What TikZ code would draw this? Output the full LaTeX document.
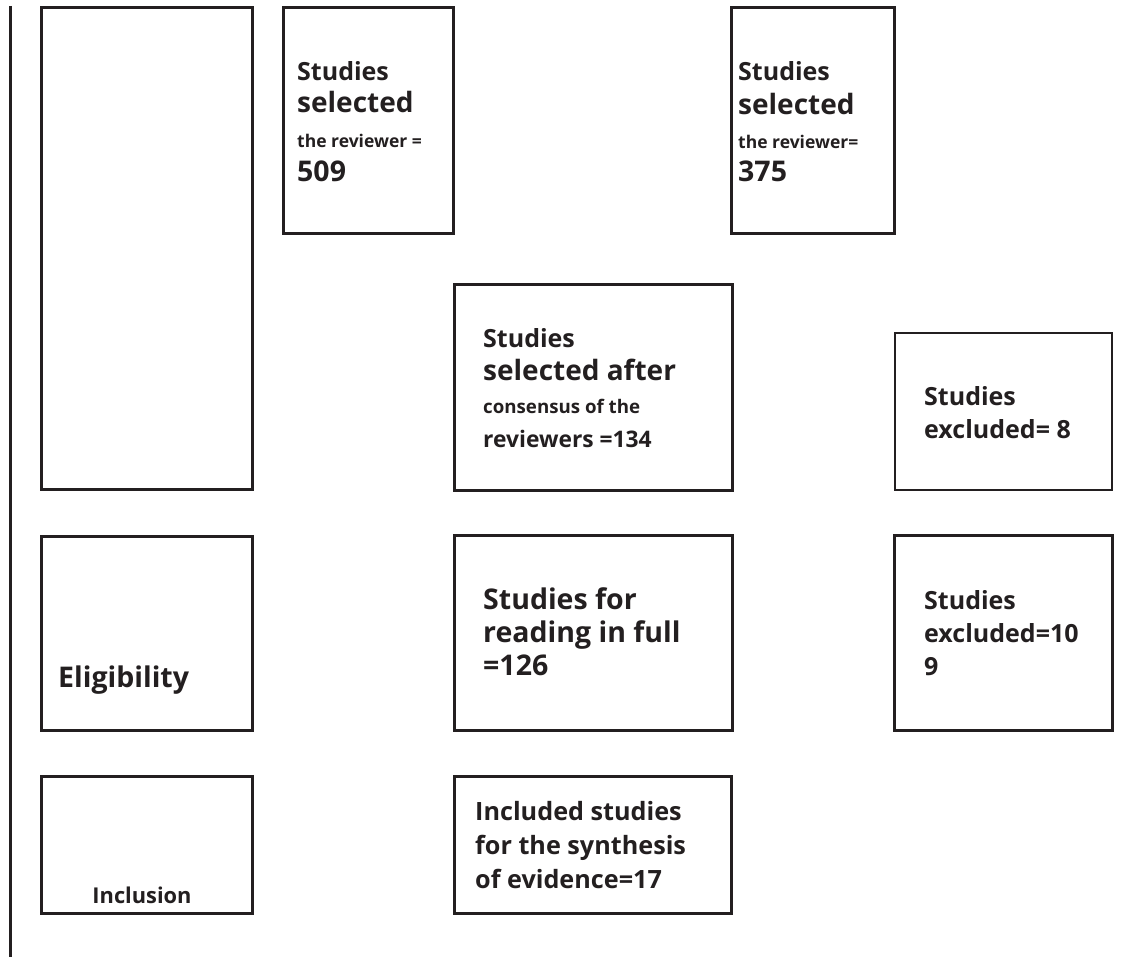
\documentclass[tikz,border=0pt]{standalone}
\usepackage{fontspec}
\setmainfont{Open Sans}
\definecolor{ink}{HTML}{231F20}
\begin{document}
\begin{tikzpicture}[x=1pt,y=-1pt,
  boxshape/.style={draw=ink, line width=3pt, inner sep=0pt, outer sep=0pt},
  lbl/.style={anchor=base west, inner sep=0pt, text=ink, font=\bfseries},
  big/.style={lbl, font=\bfseries\fontsize{25}{30}\selectfont},
  bigger/.style={lbl, font=\bfseries\fontsize{28}{32}\selectfont},
  num/.style={lbl, font=\bfseries\fontsize{28.5}{32}\selectfont},
  small/.style={lbl, font=\bfseries\fontsize{17.5}{21}\selectfont},
  mid/.style={lbl, font=\bfseries\fontsize{25.2}{29}\selectfont}]
\useasboundingbox (0,0) rectangle (1134,957);
% left rule
\coordinate (rtop) at (10,6);
\coordinate (rbot) at (10,957);
\draw[ink, line width=3pt] (rtop) -- (rbot);
% boxes
\node[boxshape, minimum width=211pt, minimum height=481pt] (bid) at (146.5,248.5) {};
\node[boxshape, minimum width=170pt, minimum height=226pt] (b509) at (368,121) {};
\node[boxshape, minimum width=163pt, minimum height=226pt] (b375) at (812.5,121) {};
\node[boxshape, minimum width=278pt, minimum height=205pt] (b134) at (593,387.5) {};
\node[boxshape, line width=2.5pt, minimum width=217pt, minimum height=157pt] (bex8) at (1003.5,411.5) {};
\node[boxshape, minimum width=211pt, minimum height=194pt] (belig) at (146.5,633) {};
\node[boxshape, minimum width=278pt, minimum height=195pt] (b126) at (593,632.5) {};
\node[boxshape, minimum width=218pt, minimum height=195pt] (bex109) at (1003,632.5) {};
\node[boxshape, minimum width=211pt, minimum height=137pt] (bincl) at (146.5,844.5) {};
\node[boxshape, minimum width=277pt, minimum height=137pt] (bincd) at (592.5,844.5) {};
% texts 509
\node[big] (t1a) at (297,81) {Studies};
\node[bigger] (t1b) at (297,113) {selected};
\node[small] (t1c) at (297,148) {the reviewer =};
\node[num] (t1d) at (297,182) {509};
% texts 375
\node[big] (t2a) at (738,81) {Studies};
\node[bigger] (t2b) at (738,115) {selected};
\node[small] (t2c) at (738,149) {the reviewer=};
\node[num] (t2d) at (738,182) {375};
% texts 134
\node[big] (t3a) at (483,347) {Studies};
\node[bigger] (t3b) at (483,380) {selected after};
\node[lbl, font=\bfseries\fontsize{18.7}{22}\selectfont] (t3c) at (483,413) {consensus of the};
\node[lbl, font=\bfseries\fontsize{22.8}{26}\selectfont] (t3d) at (483,447) {reviewers =134};
% excluded 8
\node[big] (t4a) at (924,405) {Studies};
\node[big] (t4b) at (924,438) {excluded= 8};
% 126
\node[num] (t5a) at (483,609) {Studies for};
\node[num] (t5b) at (483,642) {reading in full};
\node[num] (t5c) at (483,675) {=126};
% 109
\node[big] (t6a) at (924,609) {Studies};
\node[big] (t6b) at (924,642) {excluded=10};
\node[big] (t6c) at (924,675) {9};
% eligibility
\node[num] (t7) at (58,687) {Eligibility};
% inclusion
\node[lbl, anchor=base, font=\bfseries\fontsize{21.8}{25}\selectfont] (t8) at (142,903) {Inclusion};
% included
\node[mid] (t9a) at (475,820) {Included studies};
\node[mid] (t9b) at (475,854) {for the synthesis};
\node[mid] (t9c) at (475,888) {of evidence=17};
\end{tikzpicture}
\end{document}
